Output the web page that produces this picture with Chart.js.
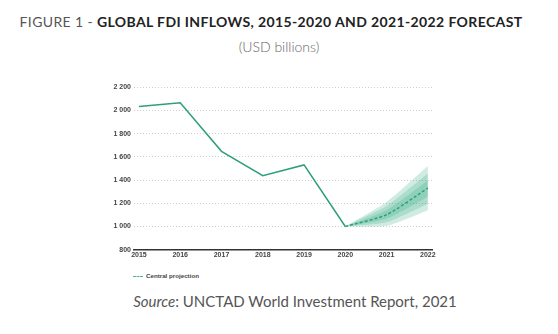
<!DOCTYPE html>
<html><head><meta charset="utf-8">
<script src="https://cdn.jsdelivr.net/npm/chart.js@4.4.0/dist/chart.umd.min.js"></script>
<style>
html,body{margin:0;padding:0;background:#fff;width:558px;height:334px;overflow:hidden;position:relative;font-family:Lato,"Open Sans",sans-serif;}
#title{position:absolute;left:0;width:558px;top:13px;text-align:center;font-size:14px;color:#222;white-space:nowrap;letter-spacing:0.38px;padding-right:16px;box-sizing:border-box;}
#title .light{color:#555;font-weight:400;}
#title b{font-weight:700;color:#222;}
#sub{position:absolute;left:0;width:558px;top:38px;text-align:center;font-size:14px;color:#666;font-weight:300;}
#src{position:absolute;left:0;width:558px;top:292px;text-align:center;font-size:15px;color:#555;padding-left:32px;box-sizing:border-box;}
#wrap{position:absolute;left:90px;top:80px;width:360px;height:180px;}
#legend{position:absolute;left:133px;top:272px;font-family:"Liberation Sans Narrow","Liberation Sans",Arial,sans-serif;font-size:6.2px;font-weight:bold;color:#444;white-space:nowrap;}
#legend span.d{display:inline-block;width:10px;border-top:1.5px dashed #4fb597;vertical-align:middle;margin-right:3px;}
</style></head>
<body>
<div id="title"><span class="light">FIGURE 1 - </span><b>GLOBAL FDI INFLOWS, 2015-2020 AND 2021-2022 FORECAST</b></div>
<div id="sub">(USD billions)</div>
<div id="wrap"><canvas id="c"></canvas></div>
<div id="legend"><span class="d"></span>Central projection</div>
<div id="src"><i>Source</i>: UNCTAD World Investment Report, 2021</div>
<script>
const years = [2015, 2016, 2017, 2018, 2019, 2020];
const inflows = [2033, 2065, 1647, 1437, 1530, 999];
const forecastYears = [2020, 2021, 2022];
const central = [999, 1100, 1330];
const band1Upper = [999, 1210, 1520];
const band1Lower = [999, 1005, 1140];
const band2Upper = [999, 1175, 1455];
const band2Lower = [999, 1035, 1195];
const band3Upper = [999, 1140, 1395];
const band3Lower = [999, 1065, 1255];
const yTicks = [800, 1000, 1200, 1400, 1600, 1800, 2000, 2200];
const xTicks = [2015, 2016, 2017, 2018, 2019, 2020, 2021, 2022];

const pts = (xs, ys) => xs.map((x, i) => ({x: x, y: ys[i]}));
const teal = '#2e9e7e';
const fillC = 'rgba(40,165,125,0.22)';
function band(u, l) {
  return [
    {data: pts(forecastYears, u), borderWidth: 0, pointRadius: 0, fill: '+1', backgroundColor: fillC, tension: 0.2},
    {data: pts(forecastYears, l), borderWidth: 0, pointRadius: 0, fill: false, tension: 0.2}
  ];
}
const fmt = v => String(v).replace(/\B(?=(\d{3})+(?!\d))/g, ' ');
const tickFont = {family: '"Liberation Sans Narrow","Liberation Sans",Arial,sans-serif', size: 7, weight: 'bold'};

new Chart(document.getElementById('c'), {
  type: 'line',
  data: {
    datasets: [
      ...band(band1Upper, band1Lower),
      ...band(band2Upper, band2Lower),
      ...band(band3Upper, band3Lower),
      {data: pts(forecastYears, central), borderColor: teal, borderWidth: 1.5, borderDash: [3, 2], pointRadius: 0, fill: false, tension: 0.2},
      {data: pts(years, inflows), borderColor: teal, borderWidth: 1.5, pointRadius: 0, fill: false, tension: 0}
    ]
  },
  options: {
    responsive: true, maintainAspectRatio: false, animation: false,
    layout: {padding: {left: 0, right: 18, top: 4, bottom: 0}},
    plugins: {legend: {display: false}, tooltip: {enabled: false}},
    scales: {
      x: {
        type: 'linear', min: 2014.88, max: 2022.1,
        afterBuildTicks: s => { s.ticks = xTicks.map(v => ({value: v})); },
        ticks: {font: tickFont, color: '#444', padding: 1, maxRotation: 0, callback: v => String(v)},
        grid: {display: false, drawTicks: false},
        border: {color: '#333', width: 1.5}
      },
      y: {
        min: 800, max: 2200,
        afterBuildTicks: s => { s.ticks = yTicks.map(v => ({value: v})); },
        afterFit: s => { s.width = 44; },
        ticks: {font: tickFont, color: '#444', padding: 3, callback: v => fmt(v)},
        grid: {color: '#cfcfcf', drawTicks: false, lineWidth: 1},
        border: {display: false, dash: [1, 2]}
      }
    }
  }
});
</script>
</body></html>
